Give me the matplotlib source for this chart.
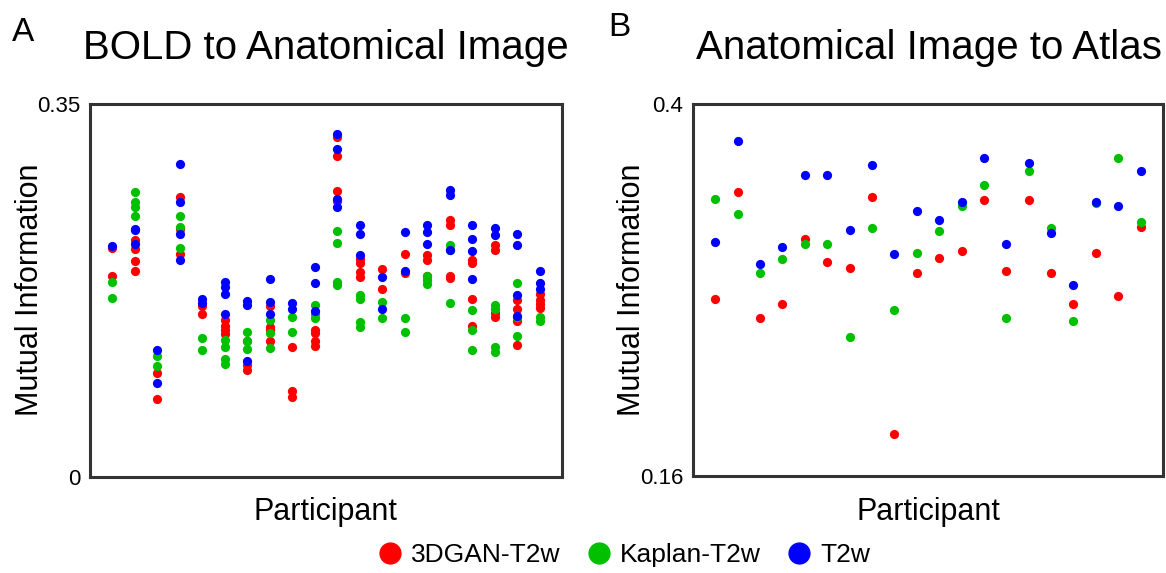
import matplotlib as mpl
import matplotlib.pyplot as plt
from matplotlib.lines import Line2D
import numpy as np

mpl.rcParams.update({
    "font.family": ["Liberation Sans", "DejaVu Sans"],
    "axes.linewidth": 2.2,
    "axes.edgecolor": "#333333",
})

# ── Data ─────────────────────────────────────────────────────────────

methods = ["3DGAN-T2w", "Kaplan-T2w", "T2w"]
colors = ["#FF0000", "#00C000", "#0000FF"]
participants = np.arange(1, 21)

# Panel A: several runs per participant (BOLD -> anatomical)
a_gan = [
    [0.215, 0.189], [0.222, 0.214, 0.203, 0.193], [0.098, 0.073],
    [0.263, 0.233, 0.209], [0.160, 0.153], [0.147, 0.142, 0.138, 0.134],
    [0.128, 0.105, 0.100], [0.160, 0.141, 0.138, 0.128], [0.122, 0.081, 0.075],
    [0.138, 0.135, 0.128, 0.123], [0.319, 0.301, 0.268, 0.259],
    [0.205, 0.201, 0.192, 0.188], [0.195, 0.176], [0.209, 0.191],
    [0.208, 0.204, 0.189], [0.241, 0.236, 0.189, 0.187],
    [0.204, 0.201, 0.167, 0.142], [0.218, 0.213, 0.154, 0.150],
    [0.166, 0.158, 0.146, 0.124], [0.172, 0.166, 0.162, 0.159],
]
a_kaplan = [
    [0.183, 0.168], [0.267, 0.258, 0.253, 0.245], [0.114, 0.104],
    [0.245, 0.235, 0.215], [0.130, 0.119], [0.129, 0.122, 0.111, 0.106],
    [0.136, 0.128, 0.120], [0.147, 0.135, 0.121], [0.150, 0.136],
    [0.161, 0.153, 0.149], [0.231, 0.220, 0.183, 0.180],
    [0.171, 0.167, 0.145, 0.141], [0.164, 0.149], [0.149, 0.136],
    [0.189, 0.185, 0.181], [0.218, 0.213, 0.163],
    [0.157, 0.138, 0.119], [0.161, 0.158, 0.122, 0.117],
    [0.182, 0.150, 0.132], [0.150, 0.146],
]
a_t2w = [
    [0.217], [0.233, 0.232, 0.219], [0.119, 0.088],
    [0.294, 0.258, 0.228, 0.204], [0.167, 0.163], [0.183, 0.178, 0.172, 0.153],
    [0.165, 0.161, 0.109], [0.186, 0.164, 0.153], [0.163, 0.158],
    [0.197, 0.182, 0.156], [0.322, 0.308, 0.261, 0.253],
    [0.236, 0.228, 0.208], [0.188, 0.158], [0.230, 0.193],
    [0.236, 0.230, 0.219], [0.269, 0.265, 0.213],
    [0.236, 0.223, 0.212, 0.186], [0.234, 0.227],
    [0.228, 0.218, 0.171, 0.151], [0.193, 0.182, 0.176],
]

# Panel B: one value per participant (anatomical -> atlas)
b_gan = [0.274, 0.343, 0.262, 0.271, 0.313, 0.298, 0.294, 0.340, 0.187, 0.291,
         0.301, 0.305, 0.338, 0.292, 0.338, 0.291, 0.271, 0.304, 0.276, 0.321]
b_kaplan = [0.339, 0.329, 0.291, 0.300, 0.310, 0.310, 0.250, 0.320, 0.267, 0.304,
            0.318, 0.334, 0.348, 0.262, 0.357, 0.320, 0.260, 0.336, 0.365, 0.324]
b_t2w = [0.311, 0.376, 0.297, 0.308, 0.354, 0.354, 0.319, 0.361, 0.303, 0.331,
         0.325, 0.337, 0.365, 0.310, 0.362, 0.317, 0.283, 0.337, 0.334, 0.357]

# ── Figure ───────────────────────────────────────────────────────────

fig = plt.figure(figsize=(11.66, 5.73), dpi=100)
ax_a = fig.add_axes([0.0772, 0.1675, 0.4048, 0.651])
ax_b = fig.add_axes([0.5943, 0.1693, 0.4031, 0.649])

for runs, color in zip([a_gan, a_kaplan, a_t2w], colors):
    for p, vals in zip(participants, runs):
        ax_a.scatter([p] * len(vals), vals, s=44, color=color, linewidths=0, zorder=3)

for vals, color in zip([b_gan, b_kaplan, b_t2w], colors):
    ax_b.scatter(participants, vals, s=44, color=color, linewidths=0, zorder=3)

for ax, ylim in [(ax_a, (0, 0.35)), (ax_b, (0.16, 0.4))]:
    ax.set_xlim(0, 21)
    ax.set_ylim(ylim)
    ax.set_xticks([])
    ax.set_yticks(ylim)
    ax.set_yticklabels([f"{ylim[0]:g}", f"{ylim[1]:g}"], fontsize=16)
    ax.tick_params(axis="y", length=0, pad=7)

# titles, panel letters, axis labels
fig.text(0.2795, 0.916, "BOLD to Anatomical Image", fontsize=29, ha="center", va="center")
fig.text(0.7965, 0.916, "Anatomical Image to Atlas", fontsize=29, ha="center", va="center")
fig.text(0.010, 0.943, "A", fontsize=24, ha="left", va="center")
fig.text(0.522, 0.952, "B", fontsize=24, ha="left", va="center")
fig.text(0.026, 0.494, "Mutual Information", fontsize=22, rotation=90, ha="center", va="center")
fig.text(0.542, 0.494, "Mutual Information", fontsize=22, rotation=90, ha="center", va="center")
fig.text(0.2795, 0.107, "Participant", fontsize=22, ha="center", va="center")
fig.text(0.7965, 0.107, "Participant", fontsize=22, ha="center", va="center")

handles = [Line2D([], [], marker="o", linestyle="", markersize=15, color=c) for c in colors]
fig.legend(handles, methods, loc="center", bbox_to_anchor=(0.535, 0.031), ncol=3,
           frameon=False, fontsize=19, handletextpad=0.3, columnspacing=0.95,
           handlelength=1.0, borderpad=0.2)

fig.savefig("out.png", dpi=100)
